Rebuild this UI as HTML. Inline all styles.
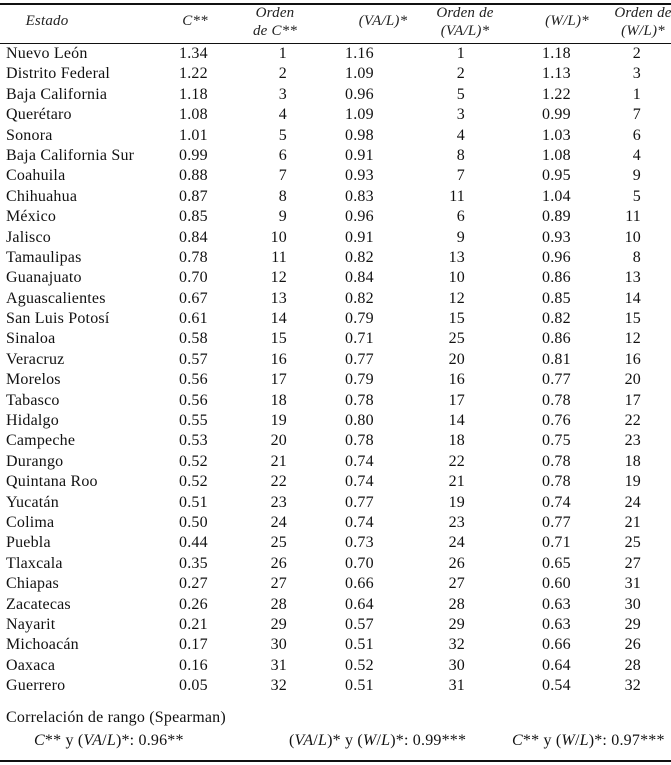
<!DOCTYPE html>
<html><head><meta charset="utf-8"><style>
body{margin:0;background:#fff;}
#w{position:relative;width:671px;height:765px;font-family:"Liberation Serif",serif;font-size:16px;letter-spacing:0.2px;color:#111;overflow:hidden;}
.r{position:absolute;left:0;width:671px;height:20px;line-height:20px;white-space:nowrap;}
.r span{position:absolute;top:0;}
.n{left:6px}.c{left:179px}.oc{left:247px;width:40px;text-align:right}
.v{left:345px}.ov{left:425px;width:40px;text-align:right}
.w{left:542px}.ow{left:601px;width:40px;text-align:right}
.h{position:absolute;font-style:italic;font-size:15px;line-height:18px;text-align:center;color:#222;}
.rule{position:absolute;left:0;width:671px;height:1.5px;background:#111;}
</style></head><body><div id="w">
<div class="rule" style="top:3px"></div>
<div class="rule" style="top:43px;height:1px"></div>
<div class="rule" style="top:760px"></div>
<div class="h" style="left:7px;width:80px;top:12px">Estado</div>
<div class="h" style="left:165px;width:60px;top:12px">C**</div>
<div class="h" style="left:240px;width:70px;top:4px">Orden<br>de C**</div>
<div class="h" style="left:343px;width:80px;top:12px">(VA/L)*</div>
<div class="h" style="left:420px;width:90px;top:4px">Orden de<br>(VA/L)*</div>
<div class="h" style="left:527px;width:80px;top:12px">(W/L)*</div>
<div class="h" style="left:603px;width:80px;top:4px">Orden de<br>(W/L)*</div>
<div id="rows"></div>
<div class="r" style="top:708px"><span class="n">Correlación de rango (Spearman)</span></div>
<div class="r" style="top:731px"><span style="left:34px"><i>C</i>** y (<i>VA</i>/<i>L</i>)*: 0.96**</span><span style="left:289px">(<i>VA</i>/<i>L</i>)* y (<i>W</i>/<i>L</i>)*: 0.99***</span><span style="left:512px"><i>C</i>** y (<i>W</i>/<i>L</i>)*: 0.97***</span></div>
<script>
var d=[["Nuevo León","1.34",1,"1.16",1,"1.18",2],["Distrito Federal","1.22",2,"1.09",2,"1.13",3],["Baja California","1.18",3,"0.96",5,"1.22",1],["Querétaro","1.08",4,"1.09",3,"0.99",7],["Sonora","1.01",5,"0.98",4,"1.03",6],["Baja California Sur","0.99",6,"0.91",8,"1.08",4],["Coahuila","0.88",7,"0.93",7,"0.95",9],["Chihuahua","0.87",8,"0.83",11,"1.04",5],["México","0.85",9,"0.96",6,"0.89",11],["Jalisco","0.84",10,"0.91",9,"0.93",10],["Tamaulipas","0.78",11,"0.82",13,"0.96",8],["Guanajuato","0.70",12,"0.84",10,"0.86",13],["Aguascalientes","0.67",13,"0.82",12,"0.85",14],["San Luis Potosí","0.61",14,"0.79",15,"0.82",15],["Sinaloa","0.58",15,"0.71",25,"0.86",12],["Veracruz","0.57",16,"0.77",20,"0.81",16],["Morelos","0.56",17,"0.79",16,"0.77",20],["Tabasco","0.56",18,"0.78",17,"0.78",17],["Hidalgo","0.55",19,"0.80",14,"0.76",22],["Campeche","0.53",20,"0.78",18,"0.75",23],["Durango","0.52",21,"0.74",22,"0.78",18],["Quintana Roo","0.52",22,"0.74",21,"0.78",19],["Yucatán","0.51",23,"0.77",19,"0.74",24],["Colima","0.50",24,"0.74",23,"0.77",21],["Puebla","0.44",25,"0.73",24,"0.71",25],["Tlaxcala","0.35",26,"0.70",26,"0.65",27],["Chiapas","0.27",27,"0.66",27,"0.60",31],["Zacatecas","0.26",28,"0.64",28,"0.63",30],["Nayarit","0.21",29,"0.57",29,"0.63",29],["Michoacán","0.17",30,"0.51",32,"0.66",26],["Oaxaca","0.16",31,"0.52",30,"0.64",28],["Guerrero","0.05",32,"0.51",31,"0.54",32]];
var h="",cl=["n","c","oc","v","ov","w","ow"];
d.forEach(function(r,i){h+='<div class="r" style="top:'+(44+i*20.39).toFixed(2)+'px">';r.forEach(function(x,j){h+='<span class="'+cl[j]+'">'+x+'</span>';});h+='</div>';});
document.getElementById("rows").innerHTML=h;
</script>
</div></body></html>
